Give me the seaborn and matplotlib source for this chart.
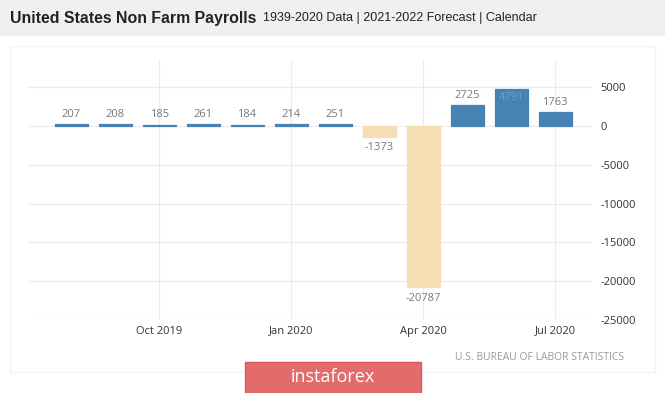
import matplotlib
matplotlib.use("Agg")
import matplotlib.pyplot as plt
import seaborn as sns
import pandas as pd

# data: US non farm payrolls, change in thousands
months = ["Aug 2019", "Sep 2019", "Oct 2019", "Nov 2019", "Dec 2019", "Jan 2020",
          "Feb 2020", "Mar 2020", "Apr 2020", "May 2020", "Jun 2020", "Jul 2020"]
values = [207, 208, 185, 261, 184, 214, 251, -1373, -20787, 2725, 4791, 1763]
tick_labels = ["Oct 2019", "Jan 2020", "Apr 2020", "Jul 2020"]
y_ticks = [5000, 0, -5000, -10000, -15000, -20000, -25000]

df = pd.DataFrame({"month": months, "value": values})
df["sign"] = ["pos" if v >= 0 else "neg" for v in values]

sns.set_style("white")
plt.rcParams["font.family"] = ["Open Sans", "DejaVu Sans"]

fig = plt.figure(figsize=(6.65, 3.93), dpi=100)
fig.patch.set_facecolor("white")

# header band
fig.patches.append(plt.Rectangle((0, 1 - 36 / 393), 1, 36 / 393, transform=fig.transFigure,
                                 facecolor="#f0f0f0", edgecolor="none", zorder=0))
fig.text(10 / 665, 1 - 18 / 393, "United States Non Farm Payrolls", fontsize=11.4,
         fontweight="bold", family="Liberation Sans", color="#222222", va="center")
fig.text(263 / 665, 1 - 18 / 393, "1939-2020 Data | 2021-2022 Forecast | Calendar",
         fontsize=9, family="Liberation Sans", color="#222222", va="center")

# faint panel border
fig.patches.append(plt.Rectangle((10 / 665, 1 - 372 / 393), 645 / 665, 326 / 393,
                                 transform=fig.transFigure, facecolor="none",
                                 edgecolor="#f3f3f3", lw=1, zorder=0))

ax = fig.add_axes([28 / 665, 1 - 320 / 393, 564 / 665, 260 / 393])
sns.barplot(data=df, x="month", y="value", hue="sign", order=months,
            palette={"pos": "#4682b4", "neg": "#f5deb3"}, dodge=False, saturation=1,
            width=0.75, legend=False, ax=ax, zorder=3)
# thin bars still show as a line like in the original
for p in ax.patches:
    p.set_edgecolor(p.get_facecolor())
    p.set_linewidth(0.9)

for i, v in enumerate(values):
    if i == 10:
        ax.annotate(str(v), (i, v), xytext=(0, -2), textcoords="offset points",
                    ha="center", va="top", fontsize=8, color="#6f9cc6", zorder=4)
    elif v >= 0:
        ax.annotate(str(v), (i, v), xytext=(0, 3), textcoords="offset points",
                    ha="center", va="bottom", fontsize=8, color="#777777")
    else:
        ax.annotate(str(v), (i, v), xytext=(0, -4), textcoords="offset points",
                    ha="center", va="top", fontsize=8, color="#777777")

ax.set_xlim(-0.98, 11.84)
ax.set_ylim(-25000, 8500)
ax.set_xticks([months.index(m) for m in tick_labels])
ax.set_xticklabels(tick_labels, fontsize=8, color="#333333")
ax.set_yticks(y_ticks)
ax.set_yticklabels([str(t) for t in y_ticks], fontsize=8, color="#333333")
ax.yaxis.tick_right()
ax.tick_params(axis="both", length=0)
ax.tick_params(axis="y", pad=6)
ax.tick_params(axis="x", pad=4)
ax.set_xlabel("")
ax.set_ylabel("")
ax.grid(True, axis="both", color="#ebebeb", lw=0.8, zorder=0)
ax.set_axisbelow(True)
for s in ax.spines.values():
    s.set_visible(False)

fig.text(624 / 665, 1 - 357 / 393, "U.S. BUREAU OF LABOR STATISTICS", fontsize=7.5,
         color="#999999", ha="right", va="center")

# watermark
fig.patches.append(plt.Rectangle((245 / 665, 0), 176 / 665, 31 / 393,
                                 transform=fig.transFigure, facecolor="#e36b6b",
                                 edgecolor="#d85c5c", zorder=5))
fig.text(333 / 665, 16 / 393, "instaforex", fontsize=13, color="white",
         ha="center", va="center", zorder=6)

fig.savefig("out.png", dpi=100)
